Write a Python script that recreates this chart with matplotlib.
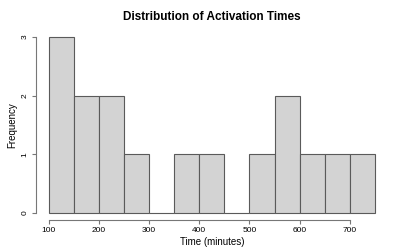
import matplotlib
matplotlib.use('Agg')
import matplotlib.pyplot as plt

# bordes de los intervalos y frecuencias
bordes = [100, 150, 200, 250, 300, 350, 400, 450, 500, 550, 600, 650, 700, 750]
frecuencias = [3, 2, 2, 1, 0, 1, 1, 0, 1, 2, 1, 1, 1]
xticks = [100, 200, 300, 400, 500, 600, 700]
yticks = [0, 1, 2, 3]

plt.rcParams['font.family'] = ['Liberation Sans', 'DejaVu Sans']

fig = plt.figure(figsize=(4, 2.5), dpi=100)
ax = fig.add_axes([0.089, 0.12, 0.881, 0.76])

anchos = [bordes[i + 1] - bordes[i] for i in range(len(frecuencias))]
ax.bar(bordes[:-1], frecuencias, width=anchos, align='edge',
       color='#d3d3d3', edgecolor='#5a5a5a', linewidth=0.8)

ax.set_xlim(74, 776)
ax.set_ylim(-0.12, 3.12)

for lado in ['top', 'right']:
    ax.spines[lado].set_visible(False)
ax.spines['left'].set_bounds(0, 3)
ax.spines['bottom'].set_bounds(100, 700)
for lado in ['left', 'bottom']:
    ax.spines[lado].set_color('#777777')
    ax.spines[lado].set_linewidth(0.8)

ax.set_xticks(xticks)
ax.set_yticks(yticks)
ax.tick_params(direction='out', length=3, width=0.8, color='#777777',
               labelsize=6, pad=2)
ax.tick_params(axis='y', labelrotation=90)
for t in ax.get_yticklabels():
    t.set_va('center')

ax.set_title('Distribution of Activation Times', fontsize=8.5, fontweight='bold', pad=7)
ax.set_xlabel('Time (minutes)', fontsize=7, labelpad=2)
ax.set_ylabel('Frequency', fontsize=7, labelpad=3)

fig.savefig('out.png', dpi=100)
